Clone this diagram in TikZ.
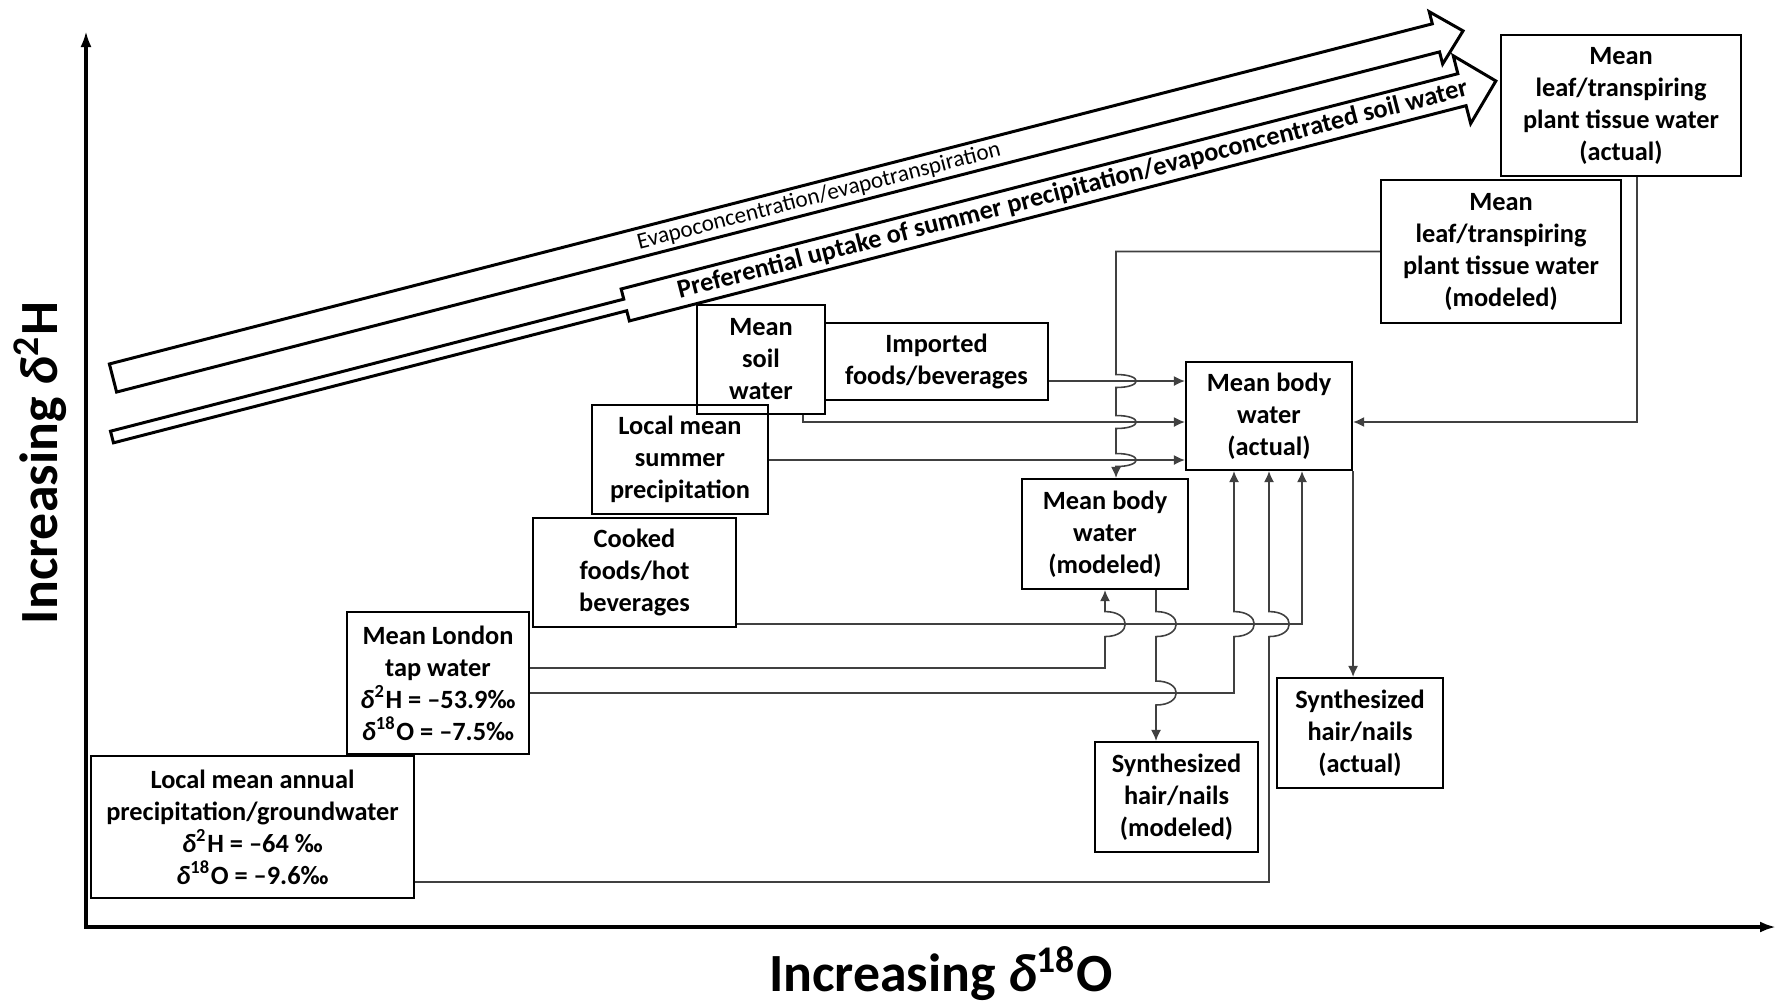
\documentclass[tikz,border=0pt]{standalone}
\usepackage{fontspec}
\setmainfont{Carlito}
\usepackage{tikz}
\usetikzlibrary{calc,arrows.meta}

\tikzstyle{bx}=[%
      rectangle, draw=black, line width=0.6pt, fill=none,
      inner sep=0pt, align=center, font=\fontsize{7.5}{9.1}\selectfont\bfseries
]
\tikzstyle{cn}=[%
      draw=black!75, line width=0.45pt, -{Latex[length=1.1mm,width=1mm]}
]
\tikzstyle{blk}=[%
      draw=black, line width=0.85pt, line join=miter
]
\tikzstyle{ax}=[%
      draw=black, line width=1.1pt, {Latex[length=1.6mm,width=1.1mm]}-{Latex[length=1.6mm,width=1.1mm]}
]
\tikzstyle{axlabel}=[%
      font=\fontsize{15.3}{18}\selectfont\bfseries, inner sep=0pt, anchor=base
]

% delta notation
\newcommand{\isod}[2]{\textit{δ}\textsuperscript{#1}#2}
% line jumps over a crossing line: crossing point, half height
\newcommand{\jmpdn}[2]{-- ($(#1)+(0,-#2)$) .. controls +(27,0) and +(27,0) .. ($(#1)+(0,#2)$)}
\newcommand{\jmpup}[2]{-- ($(#1)+(0,#2)$) .. controls +(27,0) and +(27,0) .. ($(#1)+(0,-#2)$)}

\begin{document}
\begin{tikzpicture}[x=0.1mm, y=-0.1mm]
    \useasboundingbox (0,0) rectangle (1783,1000);

    % axes
    \coordinate (ytop) at (86,31);
    \coordinate (xend) at (1776,927);
    \draw[ax] (ytop) |- (xend);
    \node[axlabel] (xl) at (941,991) {Increasing \isod{18}{O}};
    \node[axlabel, rotate=90] (yl) at (57,463) {Increasing \isod{2}{H}};

    % block arrows
    \begin{scope}[shift={(113,378)}, rotate=14.42]
      \draw[blk] (0,-14.5) -- (1366,-14.5) -- (1366,-27) -- (1394,0) -- (1366,27) -- (1366,14.5) -- (0,14.5) -- cycle;
      \node[font=\fontsize{6.6}{8}\selectfont, rotate=14.42, inner sep=0pt] (evap) at (729,0) {Evapoconcentration/evapotranspiration};
    \end{scope}
    \begin{scope}[shift={(112,437)}, rotate=14.43]
      \draw[blk] (0,-6) -- (530,-6) -- (530,-16.5) -- (1394,-16.5) -- (1394,-35) -- (1429,0)
                 -- (1394,35) -- (1394,16.5) -- (530,16.5) -- (530,6) -- (0,6) -- cycle;
      \node[font=\fontsize{7.5}{9}\selectfont\bfseries, rotate=14.43, inner sep=0pt] (pref) at (992,0) {Preferential uptake of summer precipitation/evapoconcentrated soil water};
    \end{scope}

    % boxes
    \node[bx, minimum width=24mm, minimum height=14.1mm] (leafA) at (1621,105.5) {Mean\\leaf/transpiring\\plant tissue water\\(actual)};
    \node[bx, minimum width=24mm, minimum height=14.3mm] (leafM) at (1501,251.5) {Mean\\leaf/transpiring\\plant tissue water\\(modeled)};
    \node[bx, minimum width=12.8mm, minimum height=10.9mm] (soil) at (761,359.5) {Mean\\soil\\water};
    \node[bx, minimum width=22.3mm, minimum height=7.7mm] (imp) at (936.5,361.5) {Imported\\foods/beverages};
    \node[bx, minimum width=17.6mm, minimum height=10.9mm] (summer) at (680,459.5) {Local mean\\summer\\precipitation};
    \node[bx, minimum width=20.3mm, minimum height=10.9mm] (cooked) at (634.5,572.5) {Cooked\\foods/hot\\beverages};
    \node[bx, minimum width=18.2mm, minimum height=14.2mm] (london) at (438,683) {Mean London\\tap water\\\isod{2}{H} = –53.9‰\\\isod{18}{O} = –7.5‰};
    \node[bx, minimum width=32.3mm, minimum height=14.2mm] (annual) at (252.5,827) {Local mean annual\\precipitation/groundwater\\\isod{2}{H} = –64 ‰\\\isod{18}{O} = –9.6‰};
    \node[bx, minimum width=16.6mm, minimum height=10.8mm] (bact) at (1269,416) {Mean body\\water\\(actual)};
    \node[bx, minimum width=16.6mm, minimum height=11mm] (bmod) at (1105,534) {Mean body\\water\\(modeled)};
    \node[bx, minimum width=16.6mm, minimum height=11mm] (synA) at (1360,733) {Synthesized\\hair/nails\\(actual)};
    \node[bx, minimum width=16.3mm, minimum height=11mm] (synM) at (1176.5,797) {Synthesized\\hair/nails\\(modeled)};

    % ports
    \coordinate (tA) at ($(bact.west)+(0,-35)$);
    \coordinate (tB) at ($(bact.west)+(0,6)$);
    \coordinate (tC) at ($(bact.west)+(0,44)$);
    \coordinate (tR) at ($(bact.east)+(0,6)$);
    \coordinate (tD) at ($(bact.south)+(-35,0)$);
    \coordinate (tF) at ($(bact.south)+(33,0)$);
    \coordinate (bmodIn) at ($(bmod.north)+(11,0)$);
    \coordinate (bmodOut) at ($(bmod.south)+(51,0)$);
    \coordinate (soilOut) at ($(soil.south)+(42,0)$);
    \coordinate (leafOut) at ($(leafA.south)+(16,0)$);
    \coordinate (cookOut) at ($(cooked.south east)+(0,-4)$);
    \coordinate (lonA) at ($(london.east)+(0,-15)$);
    \coordinate (lonB) at ($(london.east)+(0,10)$);
    \coordinate (annOut) at ($(annual.east)+(0,55)$);

    % connectors
    \draw[cn] (leafM.west) -- (leafM.west -| bmodIn) \jmpdn{bmodIn |- tA}{6.5}
              \jmpdn{bmodIn |- tB}{6.5} \jmpdn{bmodIn |- tC}{6.5} -- (bmodIn);
    \draw[cn] (imp.east |- tA) -- (tA);
    \draw[cn] (soilOut) -- (soilOut |- tB) -- (tB);
    \draw[cn] (summer.east |- tC) -- (tC);
    \draw[cn] (leafOut) -- (leafOut |- tR) -- (tR);
    \draw[cn] (bact.south east) -- (bact.south east |- synA.north);
    \draw[cn] (cookOut) -- (cookOut -| tF) -- (tF);
    \draw[cn] (lonA) -- (lonA -| bmod.south) \jmpup{bmod.south |- cookOut}{12.5} -- (bmod.south);
    \draw[cn] (lonB) -- (lonB -| tD) \jmpup{tD |- cookOut}{12.5} -- (tD);
    \draw[cn] (annOut) -- (annOut -| bact.south) \jmpup{bact.south |- cookOut}{12.5} -- (bact.south);
    \draw[cn] (bmodOut) \jmpdn{bmodOut |- cookOut}{12.5} \jmpdn{bmodOut |- lonB}{12} -- (bmodOut |- synM.north);

\end{tikzpicture}
\end{document}
